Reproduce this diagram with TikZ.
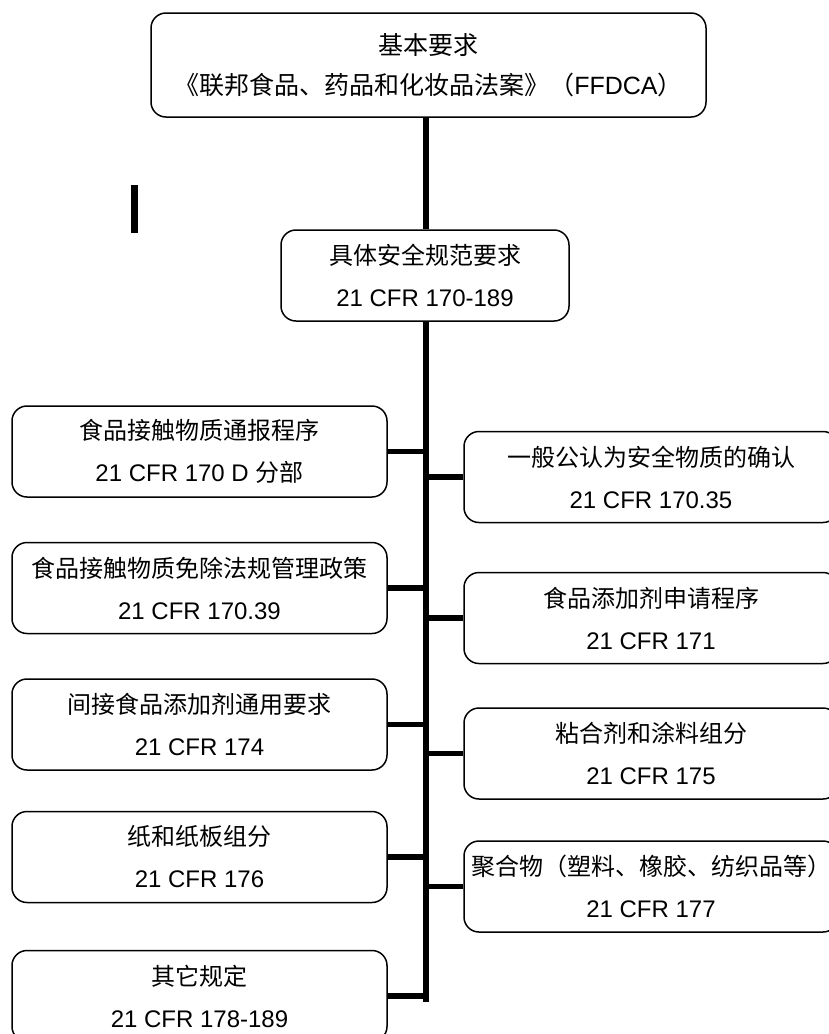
\documentclass[tikz,border=0pt]{standalone}
\usepackage{fontspec}
\setmainfont{Liberation Sans}
\newfontfamily\cjkfont{Noto Sans CJK SC}
\newcommand\zhtxt[1]{{\cjkfont #1}}
\begin{document}
\begin{tikzpicture}[x=1pt,y=-1pt]
\tikzset{
  box/.style={draw, line width=1.5pt, rounded corners=15pt, align=center, inner sep=0pt,
    font=\fontsize{24}{42}\selectfont},
  lbox/.style={box, minimum width=375pt, minimum height=91pt},
  rbox/.style={box, minimum width=374pt, minimum height=91pt},
  link/.style={line width=5.5pt},
}
\clip (0,0) rectangle (829,1034);
\fill[white] (0,0) rectangle (829,1034);

\node[box, minimum width=555pt, minimum height=104pt, font=\fontsize{25}{40}\selectfont] (top) at (428.5,65)
  {\zhtxt{基本要求}\\\zhtxt{《联邦食品、药品和化妆品法案》（}FFDCA\zhtxt{）}};
\node[box, minimum width=288pt, minimum height=91pt] (mid) at (425,275.5)
  {\zhtxt{具体安全规范要求}\\21 CFR 170-189};

\node[lbox] (L1) at (199.5,451.5) {\zhtxt{食品接触物质通报程序}\\21 CFR 170 D \zhtxt{分部}};
\node[lbox] (L2) at (199.5,588) {\zhtxt{食品接触物质免除法规管理政策}\\21 CFR 170.39};
\node[lbox] (L3) at (199.5,724.5) {\zhtxt{间接食品添加剂通用要求}\\21 CFR 174};
\node[lbox] (L4) at (199.5,857) {\zhtxt{纸和纸板组分}\\21 CFR 176};
\node[lbox] (L5) at (199.5,996) {\zhtxt{其它规定}\\21 CFR 178-189};

\node[rbox] (R1) at (651,477) {\zhtxt{一般公认为安全物质的确认}\\21 CFR 170.35};
\node[rbox] (R2) at (651,618) {\zhtxt{食品添加剂申请程序}\\21 CFR 171};
\node[rbox] (R3) at (651,753.5) {\zhtxt{粘合剂和涂料组分}\\21 CFR 175};
\node[rbox] (R4) at (651,886.5) {\zhtxt{聚合物（塑料、橡胶、纺织品等）}\\21 CFR 177};

\coordinate (spine) at (426,1002);

\draw[link] (top.south -| spine) -- (mid.north -| spine);
\draw[link] (mid.south -| spine) -- (spine);

\draw[link] (L1.east) -- (L1.east -| spine);
\draw[link] (L2.east) -- (L2.east -| spine);
\draw[link] (L3.east) -- (L3.east -| spine);
\draw[link] (L4.east) -- (L4.east -| spine);
\draw[link] (L5.east) -- (L5.east -| spine);

\draw[link] (R1.west) -- (R1.west -| spine);
\draw[link] (R2.west) -- (R2.west -| spine);
\draw[link] (R3.west) -- (R3.west -| spine);
\draw[link] (R4.west) -- (R4.west -| spine);

% stray vertical bar
\draw[line width=6.5pt] (134.5,185) -- (134.5,233);
\end{tikzpicture}
\end{document}
